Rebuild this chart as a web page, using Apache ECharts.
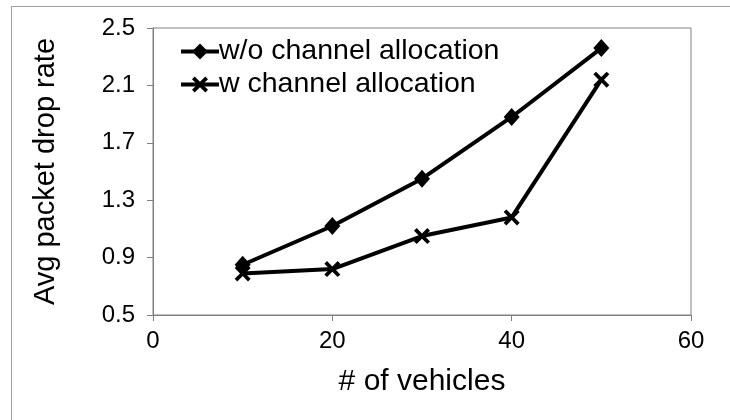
<!DOCTYPE html>
<html>
<head>
<meta charset="utf-8">
<script src="https://cdn.jsdelivr.net/npm/echarts@6/dist/echarts.min.js"></script>
<style>
  html, body { margin: 0; padding: 0; background: #fff; }
  #chart { width: 730px; height: 420px; }
</style>
</head>
<body>
<div id="chart"></div>
<script>
// values
const vehicles = [10, 20, 30, 40, 50]
const withoutAlloc = [0.85, 1.12, 1.45, 1.88, 2.36]
const withAlloc = [0.79, 0.82, 1.05, 1.18, 2.14]
const seriesNames = ['w/o channel allocation', 'w channel allocation']

// filled X marker
const crossPath = 'path://M0,2 L2,0 L6,4 L10,0 L12,2 L8,6 L12,10 L10,12 L6,8 L2,12 L0,10 L4,6 Z'
const font = 'Liberation Sans, Arial, sans-serif'

const chart = echarts.init(document.getElementById('chart'))

chart.setOption({
  backgroundColor: '#fff',
  animation: false,
  textStyle: { fontFamily: font },
  grid: { left: 153, right: 39, top: 28, bottom: 105, show: true, borderColor: '#808080', borderWidth: 1 },
  legend: {
    orient: 'vertical',
    left: 174,
    top: 32,
    itemWidth: 38,
    itemHeight: 20,
    itemGap: 4,
    lineStyle: { width: 4 },
    textStyle: { fontSize: 28.5, color: '#000', fontFamily: font, padding: [0, 0, 0, -5] },
    data: seriesNames,
  },
  xAxis: {
    type: 'value',
    min: 0,
    max: 60,
    interval: 20,
    name: '# of vehicles',
    nameLocation: 'middle',
    nameGap: 52,
    nameTextStyle: { fontSize: 30, color: '#000' },
    axisLine: { show: true, lineStyle: { color: '#808080' } },
    axisTick: { show: true, length: 6, lineStyle: { color: '#808080' } },
    axisLabel: { fontSize: 24, color: '#000', margin: 14 },
    splitLine: { show: false },
  },
  yAxis: {
    type: 'value',
    min: 0.5,
    max: 2.5,
    interval: 0.4,
    name: 'Avg packet drop rate',
    nameLocation: 'middle',
    nameGap: 93,
    nameTextStyle: { fontSize: 29, color: '#000' },
    axisLine: { show: true, lineStyle: { color: '#808080' } },
    axisTick: { show: true, length: 6, lineStyle: { color: '#808080' } },
    axisLabel: { fontSize: 24, color: '#000', margin: 18, formatter: (v) => v.toFixed(1) },
    splitLine: { show: false },
  },
  graphic: [
    { type: 'line', shape: { x1: 11, y1: 6.5, x2: 730, y2: 6.5 }, style: { stroke: '#a0a0a0', lineWidth: 1 } },
    { type: 'line', shape: { x1: 11.5, y1: 6, x2: 11.5, y2: 420 }, style: { stroke: '#a0a0a0', lineWidth: 1 } },
  ],
  series: [
    {
      name: seriesNames[0],
      type: 'line',
      data: vehicles.map((x, i) => [x, withoutAlloc[i]]),
      symbol: 'diamond',
      symbolSize: [16, 18],
      lineStyle: { color: '#000', width: 4 },
      itemStyle: { color: '#000' },
    },
    {
      name: seriesNames[1],
      type: 'line',
      data: vehicles.map((x, i) => [x, withAlloc[i]]),
      symbol: crossPath,
      symbolSize: 16,
      lineStyle: { color: '#000', width: 4 },
      itemStyle: { color: '#000' },
    },
  ],
})
</script>
</body>
</html>
